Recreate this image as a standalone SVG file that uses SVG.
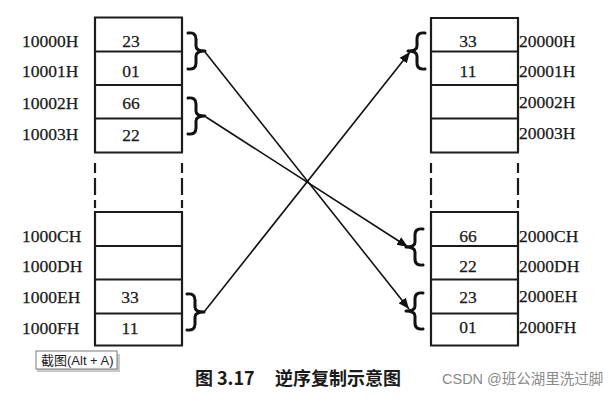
<svg xmlns="http://www.w3.org/2000/svg" xmlns:xlink="http://www.w3.org/1999/xlink" width="616" height="404" viewBox="0 0 616 404">
<style>
.ln{stroke:#1c1c1c;stroke-width:2.2;fill:none}
.ds{stroke:#1c1c1c;stroke-width:2.2;fill:none}
.br{stroke:#111;stroke-width:3;fill:none;stroke-linecap:round;stroke-linejoin:round}
.ar{stroke:#111;stroke-width:1.6;fill:none;marker-end:url(#ah)}
.lb{font-family:"Liberation Serif","Times New Roman",serif;font-size:17.5px;fill:#1a1a1a;stroke:#1a1a1a;stroke-width:0.25}
.vl{font-family:"Liberation Serif","Times New Roman",serif;font-size:17.5px;fill:#1a1a1a;stroke:#1a1a1a;stroke-width:0.25;text-anchor:middle}
.cap{font-family:"Noto Sans CJK SC",sans-serif;font-size:18px;font-weight:bold;fill:#1a1a1a}
.wm{font-family:"Liberation Sans","Noto Sans CJK SC",sans-serif;font-size:14.5px;fill:#8a8a8a}
.tt{font-family:"Liberation Sans","Noto Sans CJK SC",sans-serif;font-size:13px;fill:#222}
</style>
<defs>
<marker id="ah" markerUnits="userSpaceOnUse" markerWidth="12" markerHeight="10" refX="11" refY="5" orient="auto">
<path d="M0,0.5 L11,5 L0,9.5 Z" fill="#111"/>
</marker>
<path id="brace" d="M-17,-18 Q-9,-19 -9,-12 L-9,-5 Q-9,0 0,0 Q-9,0 -9,5 L-9,12 Q-9,19 -17,18"/>
</defs>
<rect width="616" height="404" fill="#fff"/>

<g id="left-memory">
<path class="ln" d="M95,17.5 V152.5 M182,17.5 V152.5 M94,17.5 H183 M94,51.5 H183 M94,85 H183 M94,118.5 H183 M94,152.5 H183"/>
<path class="ds" d="M95,163 V173 M95,178 V195 M95,200 V208 M182,163 V173 M182,178 V195 M182,200 V208"/>
<path class="ln" d="M95,212 V345.5 M182,212 V345.5 M94,212 H183 M94,246 H183 M94,279.5 H183 M94,313.5 H183 M94,345.5 H183"/>
<text class="lb" x="22" y="46.7">10000H</text>
<text class="lb" x="22" y="77">10001H</text>
<text class="lb" x="22" y="108.5">10002H</text>
<text class="lb" x="22" y="140">10003H</text>
<text class="lb" x="22" y="241.7">1000CH</text>
<text class="lb" x="22" y="272">1000DH</text>
<text class="lb" x="22" y="303.3">1000EH</text>
<text class="lb" x="22" y="333.5">1000FH</text>
<text class="vl" x="131" y="46.7">23</text>
<text class="vl" x="131" y="77.3">01</text>
<text class="vl" x="131" y="109">66</text>
<text class="vl" x="131" y="140.5">22</text>
<text class="vl" x="130" y="303.3">33</text>
<text class="vl" x="130" y="334">11</text>
</g>

<g id="right-memory">
<path class="ln" d="M431,18 V152.5 M518,18 V152.5 M430,18 H519 M430,51.5 H519 M430,85 H519 M430,118.5 H519 M430,152.5 H519"/>
<path class="ds" d="M431,163 V173 M431,178 V195 M431,200 V208 M518,163 V173 M518,178 V195 M518,200 V208"/>
<path class="ln" d="M431,212 V345.5 M518,212 V345.5 M430,212 H519 M430,246 H519 M430,279.5 H519 M430,313.5 H519 M430,345.5 H519"/>
<text class="lb" x="519" y="46.7">20000H</text>
<text class="lb" x="519" y="77.3">20001H</text>
<text class="lb" x="519" y="108.3">20002H</text>
<text class="lb" x="519" y="139.3">20003H</text>
<text class="lb" x="519" y="241.7">2000CH</text>
<text class="lb" x="519" y="271.7">2000DH</text>
<text class="lb" x="519" y="302">2000EH</text>
<text class="lb" x="519" y="333.3">2000FH</text>
<text class="vl" x="468" y="46.7">33</text>
<text class="vl" x="468" y="77.3">11</text>
<text class="vl" x="468" y="241.7">66</text>
<text class="vl" x="468" y="271.7">22</text>
<text class="vl" x="468" y="302.7">23</text>
<text class="vl" x="468" y="333.3">01</text>
</g>

<g id="braces">
<use href="#brace" class="br" transform="translate(205,51)"/>
<use href="#brace" class="br" transform="translate(205,116)"/>
<use href="#brace" class="br" transform="translate(204,312)"/>
<use href="#brace" class="br" transform="translate(408,51) scale(-1,1)"/>
<use href="#brace" class="br" transform="translate(406,247) scale(-1,1)"/>
<use href="#brace" class="br" transform="translate(406,311) scale(-1,1)"/>
</g>

<g id="connectors">
<line class="ar" x1="205" y1="52" x2="409" y2="309"/>
<line class="ar" x1="206" y1="117" x2="408" y2="247"/>
<line class="ar" x1="204" y1="312" x2="410" y2="52"/>
</g>

<g id="caption">
<text class="cap" y="385"><tspan x="195">图</tspan><tspan x="217">3.17</tspan><tspan x="275">逆序复制示意图</tspan></text>
<text class="wm" x="442" y="384">CSDN @班公湖里洗过脚</text>
</g>

<g id="tooltip">
<rect x="37" y="354" width="83" height="18" fill="#c8c8c8"/>
<rect x="36" y="351" width="81" height="18" fill="#fff" stroke="#7a7a7a" stroke-width="1"/>
<text class="tt" x="41" y="364.5">截图(Alt + A)</text>
</g>
</svg>
